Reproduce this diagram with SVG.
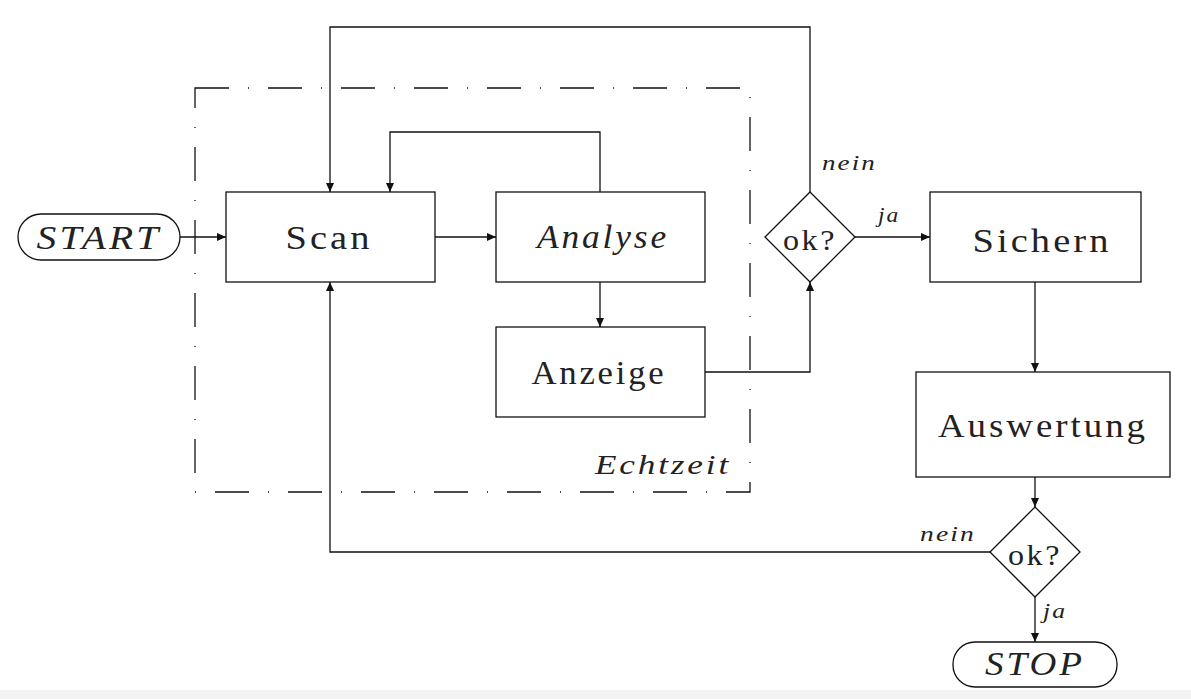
<svg xmlns="http://www.w3.org/2000/svg" width="1191" height="699" viewBox="0 0 1191 699">
<style>
.box{fill:#fff;stroke:#111;stroke-width:1.3}
.ln{fill:none;stroke:#111;stroke-width:1.3}
.t{font-family:"Liberation Serif","DejaVu Serif",serif;fill:#222;text-anchor:middle;letter-spacing:0.08em}
.big{font-size:34px}
.it{font-style:italic}
.sm{font-size:22px;font-style:italic;text-anchor:start}
.frame{fill:none;stroke:#111;stroke-width:1.3;stroke-dasharray:34 19 1 19}
</style>
<defs>
<marker id="ar" markerUnits="userSpaceOnUse" markerWidth="10" markerHeight="8" refX="9" refY="4" orient="auto">
<path d="M0,0 L9,4 L0,8 Z" fill="#111"/>
</marker>
</defs>
<rect x="0" y="690" width="1191" height="9" fill="#f3f3f3"/>
<g id="frame">
<rect class="frame" x="195" y="88" width="555" height="404"/>
<text class="t it" x="663" y="474" font-size="28" textLength="136" lengthAdjust="spacingAndGlyphs">Echtzeit</text>
</g>
<g id="connectors">
<path class="ln" d="M180,237 H226" marker-end="url(#ar)"/>
<path class="ln" d="M435,237 H496" marker-end="url(#ar)"/>
<path class="ln" d="M600,282 V327" marker-end="url(#ar)"/>
<path class="ln" d="M600,192 V132 H390 V192" marker-end="url(#ar)"/>
<path class="ln" d="M810,192 V27 H330 V192" marker-end="url(#ar)"/>
<path class="ln" d="M705,372 H810 V282" marker-end="url(#ar)"/>
<path class="ln" d="M855,237 H930" marker-end="url(#ar)"/>
<path class="ln" d="M1035,282 V372" marker-end="url(#ar)"/>
<path class="ln" d="M1035,477 V507" marker-end="url(#ar)"/>
<path class="ln" d="M1035,597 V642" marker-end="url(#ar)"/>
<path class="ln" d="M990,552 H330 V282" marker-end="url(#ar)"/>
<text class="t sm" x="822" y="170" textLength="55" lengthAdjust="spacingAndGlyphs">nein</text>
<text class="t sm" x="878" y="222" textLength="22" lengthAdjust="spacingAndGlyphs">ja</text>
<text class="t sm" x="920" y="541" textLength="56" lengthAdjust="spacingAndGlyphs">nein</text>
<text class="t sm" x="1043" y="618" textLength="24" lengthAdjust="spacingAndGlyphs">ja</text>
</g>
<g id="start">
<rect class="box" x="18" y="214" width="162" height="46" rx="23"/>
<text class="t big it" x="99" y="249" textLength="125" lengthAdjust="spacingAndGlyphs">START</text>
</g>
<g id="scan">
<rect class="box" x="226" y="192" width="209" height="90"/>
<text class="t big" x="329" y="249" textLength="87" lengthAdjust="spacingAndGlyphs">Scan</text>
</g>
<g id="analyse">
<rect class="box" x="496" y="192" width="209" height="90"/>
<text class="t big it" x="603" y="248" textLength="132" lengthAdjust="spacingAndGlyphs">Analyse</text>
</g>
<g id="anzeige">
<rect class="box" x="496" y="327" width="209" height="90"/>
<text class="t big" x="599" y="384" textLength="135" lengthAdjust="spacingAndGlyphs">Anzeige</text>
</g>
<g id="ok1">
<path class="box" d="M810,192 L855,237 L810,282 L765,237 Z"/>
<text class="t" x="810" y="250" font-size="30" textLength="54" lengthAdjust="spacingAndGlyphs">ok?</text>
</g>
<g id="sichern">
<rect class="box" x="930" y="192" width="211" height="90"/>
<text class="t big" x="1042" y="252" textLength="139" lengthAdjust="spacingAndGlyphs">Sichern</text>
</g>
<g id="auswertung">
<rect class="box" x="916" y="372" width="254" height="105"/>
<text class="t big" x="1043" y="437" textLength="210" lengthAdjust="spacingAndGlyphs">Auswertung</text>
</g>
<g id="ok2">
<path class="box" d="M1035,507 L1080,552 L1035,597 L990,552 Z"/>
<text class="t" x="1035" y="565" font-size="30" textLength="54" lengthAdjust="spacingAndGlyphs">ok?</text>
</g>
<g id="stop">
<rect class="box" x="953" y="642" width="164" height="45" rx="22"/>
<text class="t big it" x="1035" y="675" textLength="100" lengthAdjust="spacingAndGlyphs">STOP</text>
</g>
</svg>
